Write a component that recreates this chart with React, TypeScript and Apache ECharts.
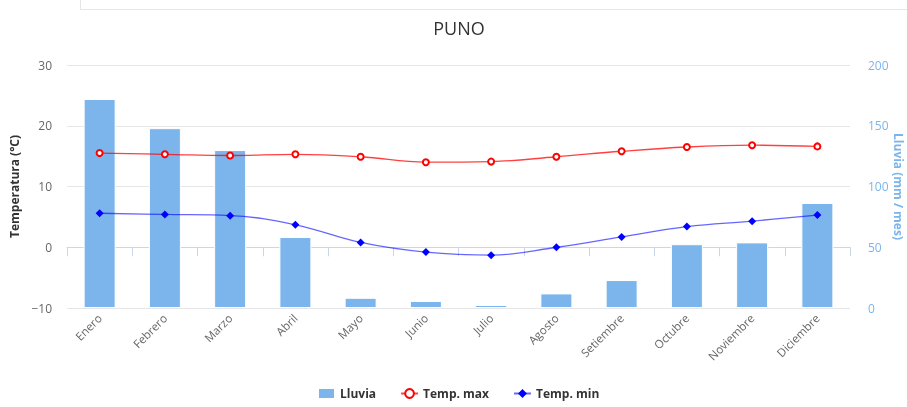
import React, { useEffect, useRef } from "react";
import * as echarts from "echarts";

const months = ["Enero", "Febrero", "Marzo", "Abril", "Mayo", "Junio", "Julio", "Agosto", "Setiembre", "Octubre", "Noviembre", "Diciembre"];
const lluvia = [172, 148, 130, 58.4, 8.4, 5.8, 2.5, 12, 23, 52.5, 54, 86.4];
const tempMax = [15.5, 15.3, 15.1, 15.3, 14.9, 14.0, 14.1, 14.9, 15.8, 16.5, 16.8, 16.6];
const tempMin = [5.6, 5.4, 5.2, 3.7, 0.8, -0.8, -1.3, 0.0, 1.7, 3.4, 4.3, 5.3];
const leftTicks = { min: -10, max: 30, interval: 10 };
const rightTicks = { min: 0, max: 200, interval: 50 };

const FONT = "'Open Sans', 'DejaVu Sans', Arial, sans-serif";

export default function App() {
  const ref = useRef<HTMLDivElement>(null);
  useEffect(() => {
    if (!ref.current) return;
    const chart = echarts.init(ref.current, undefined, { renderer: "svg" });
    chart.setOption({
      animation: false,
      textStyle: { fontFamily: FONT },
      graphic: [
        { type: "line", shape: { x1: 80, y1: 9.5, x2: 907, y2: 9.5 }, style: { stroke: "#e6e6e6", lineWidth: 1 } },
        { type: "line", shape: { x1: 80.5, y1: 0, x2: 80.5, y2: 10 }, style: { stroke: "#e6e6e6", lineWidth: 1 } },
        {
          type: "text",
          x: 459,
          y: 28,
          style: { text: "PUNO", fontSize: 18, fill: "#333333", fontFamily: FONT, align: "center", verticalAlign: "middle" },
        },
      ],
      grid: { left: 67, right: 57, top: 65, bottom: 99, containLabel: false, outerBoundsMode: "none" },
      legend: {
        bottom: 2,
        left: 312,
        itemGap: 24,
        itemWidth: 17,
        itemHeight: 11,
        textStyle: { fontWeight: "bold", color: "#333333", fontSize: 12, fontFamily: FONT },
        data: [{ name: "Lluvia", icon: "rect" }, { name: "Temp. max" }, { name: "Temp. min" }],
      },
      xAxis: {
        type: "category",
        data: months,
        boundaryGap: true,
        axisLine: { lineStyle: { color: "#ccd6eb" } },
        axisTick: { show: true, length: 9, lineStyle: { color: "#ccd6eb" }, alignWithLabel: false },
        axisLabel: { rotate: 45, interval: 0, color: "#666666", fontSize: 11.5, margin: 8, fontFamily: FONT },
      },
      yAxis: [
        {
          type: "value",
          min: leftTicks.min,
          max: leftTicks.max,
          interval: leftTicks.interval,
          name: "Temperatura (°C)",
          nameLocation: "middle",
          nameGap: 44,
          nameRotate: 90,
          nameTextStyle: { fontWeight: "bold", color: "#333333", fontSize: 12, fontFamily: FONT },
          axisLine: { show: false },
          axisTick: { show: false },
          axisLabel: {
            color: "#666666",
            fontSize: 12,
            margin: 15,
            fontFamily: FONT,
            formatter: (v: number) => (v < 0 ? "\u2212" + Math.abs(v) : String(v)),
          },
          splitLine: { lineStyle: { color: "#e6e6e6" } },
        },
        {
          type: "value",
          min: rightTicks.min,
          max: rightTicks.max,
          interval: rightTicks.interval,
          name: "Lluvia (mm / mes)",
          nameLocation: "middle",
          nameGap: 42,
          nameMoveOverlap: false,
          nameRotate: -90,
          nameTextStyle: { fontWeight: "bold", color: "#7cb5ec", fontSize: 12, fontFamily: FONT },
          axisLine: { show: false },
          axisTick: { show: false },
          axisLabel: { color: "#7cb5ec", fontSize: 12, margin: 18, fontFamily: FONT },
          splitLine: { show: false },
        },
      ],
      series: [
        {
          name: "Lluvia",
          type: "bar",
          yAxisIndex: 1,
          data: lluvia,
          barWidth: 32,
          itemStyle: { color: "#7cb5ec", borderColor: "#ffffff", borderWidth: 1 },
        },
        {
          name: "Temp. max",
          type: "line",
          yAxisIndex: 0,
          data: tempMax,
          smooth: 0.4,
          symbol: "emptyCircle",
          symbolSize: 6,
          lineStyle: { color: "#ff0000", width: 1.3, opacity: 0.75 },
          itemStyle: { color: "#ff0000", borderWidth: 1.6 },
          z: 3,
        },
        {
          name: "Temp. min",
          type: "line",
          yAxisIndex: 0,
          data: tempMin,
          smooth: 0.4,
          symbol: "diamond",
          symbolSize: 8,
          lineStyle: { color: "#0000ff", width: 1.3, opacity: 0.6 },
          itemStyle: { color: "#0000ff" },
          z: 3,
        },
      ],
    });
    return () => chart.dispose();
  }, []);
  return <div ref={ref} style={{ position: "fixed", left: 0, top: 0, width: 907, height: 407 }} />;
}
